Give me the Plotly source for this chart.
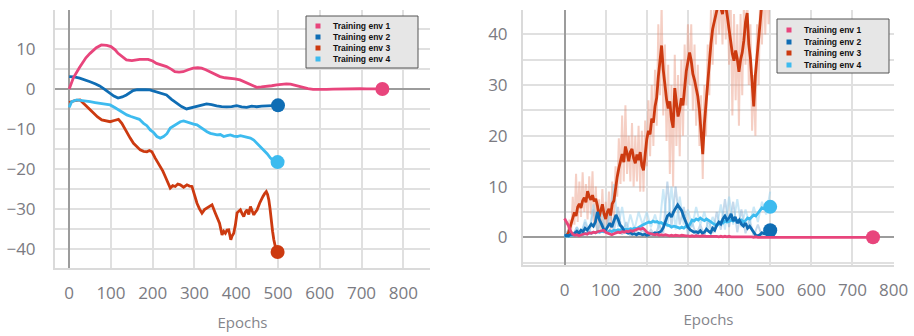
import plotly.graph_objects as go

W, H = 914, 336

# ---------------- data ----------------
series_names = ["Training env 1", "Training env 2", "Training env 3", "Training env 4"]
series_colors = ["#e8457c", "#0f6db4", "#cc3a10", "#3dbbef"]
pale_colors = ["rgba(232,69,124,0.3)", "rgba(110,160,205,0.4)", "rgba(232,140,115,0.42)", "rgba(150,210,240,0.5)"]

x_ticks = [0, 100, 200, 300, 400, 500, 600, 700, 800]

# Left panel
left_env1_x = [0,10,25,40,50,65,77,90,100,110,117,127,137,150,169,189,200,209,220,233,245,253,263,273,285,297,308,317,327,337,350,361,373,385,397,409,420,433,441,449,460,473,485,497,510,520,530,537,548,560,572,584,600,616,632,648,664,680,696,712,730,750]
left_env1_y = [0,2.8,5.4,7.8,8.9,10.3,11,10.9,10.6,9.8,8.9,8.1,7.25,7.1,7.4,7.4,7.0,6.4,6.0,5.6,4.9,4.3,4.2,4.3,4.8,5.2,5.3,5.2,4.8,4.3,3.7,3.1,2.8,2.7,2.5,2.25,1.7,1.0,0.6,0.4,0.5,0.6,0.8,1.0,1.2,1.25,1.2,1.0,0.7,0.4,0.1,-0.1,-0.15,-0.1,-0.05,0,0.05,0.1,0.05,0,0.02,0]

left_env2_x = [0,12,25,38,50,62,73,85,97,107,117,127,137,145,153,163,173,183,193,201,209,220,233,245,257,269,281,293,305,317,329,341,353,365,377,389,401,413,425,437,449,461,473,487,500]
left_env2_y = [3.1,3.0,2.7,2.3,1.8,1.3,0.75,-0.1,-1.1,-1.8,-2.3,-2.0,-1.5,-0.9,-0.4,-0.2,-0.1,-0.15,-0.25,-0.5,-0.7,-1.0,-1.5,-2.6,-3.6,-4.4,-5.0,-4.7,-4.25,-4.0,-3.75,-3.9,-4.25,-4.4,-4.5,-4.4,-4.2,-4.5,-4.6,-4.3,-4.45,-4.3,-4.25,-4.2,-4.1]

left_env3_x = [0,14,26,38,48,58,68,78,88,98,108,118,126,132,138,146,154,162,170,178,186,192,198,206,212,218,224,230,236,242,248,254,260,266,274,282,288,294,300,306,312,318,324,330,336,342,350,355,360,366,370,374,378,382,387,390,394,398,402,406,410,414,418,422,426,430,434,438,442,446,450,456,460,464,468,472,475,478,481,484,487,490,494,499]
left_env3_y = [-3.4,-2.9,-2.75,-4.0,-5.0,-6.1,-7.0,-7.75,-8.0,-8.2,-7.9,-7.6,-8.6,-9.8,-11.1,-12.3,-13.6,-14.5,-15.25,-15.6,-15.7,-15.4,-15.7,-17.3,-18.3,-19.4,-20.5,-21.9,-23.6,-24.8,-24.2,-24.4,-23.8,-24.0,-24.6,-24.0,-24.3,-24.4,-26.5,-28.6,-30.0,-31.1,-30.2,-29.8,-29.4,-29.0,-31.1,-32.2,-33.6,-36.5,-35.6,-36.1,-35.3,-35.25,-37.75,-36.8,-36.1,-34.0,-31.0,-30.6,-30.25,-31.2,-31.9,-30.8,-30.25,-31.4,-29.4,-30.5,-31.5,-30.8,-30.25,-28.6,-27.6,-26.9,-26.2,-25.7,-26.4,-27.75,-30.0,-33.6,-35.6,-37.75,-39.6,-40.8]

left_env4_x = [0,6,18,26,41,50,62,74,86,98,108,118,128,138,148,158,168,178,186,194,202,210,218,226,234,242,250,258,266,274,282,290,298,306,314,322,330,338,346,354,362,370,378,386,394,402,410,418,426,434,442,450,458,466,474,482,490,499]
left_env4_y = [-4.6,-3.2,-2.75,-2.9,-3.2,-3.2,-3.4,-3.6,-3.8,-4.0,-4.6,-5.25,-5.9,-6.5,-6.9,-7.3,-7.6,-8.6,-9.2,-10.25,-10.9,-11.9,-12.3,-11.9,-11.2,-9.8,-9.2,-8.6,-8.2,-8.0,-8.3,-8.6,-8.8,-9.0,-9.6,-10.25,-10.7,-11.1,-11.3,-11.5,-11.4,-11.9,-11.7,-11.5,-11.8,-11.9,-11.7,-11.9,-12.0,-12.3,-12.8,-13.6,-14.4,-15.25,-16.2,-17.3,-18.0,-18.3]

# Right panel
right_x5 = list(range(0, 501, 5))
right_env1_x = right_x5 + [550, 600, 650, 700, 750]
right_env1_y = [3.7,3.0,2.2,1.2,0.6,0.4,0.5,0.3,0.5,0.6,
                0.7,0.6,0.9,0.8,1.0,0.9,1.1,1.2,1.3,1.4,
                1.0,0.8,0.6,0.5,0.7,0.8,1.0,0.9,1.1,1.0,
                1.2,1.1,1.3,1.2,1.4,1.5,1.7,1.6,1.8,1.5,
                1.0,0.8,0.7,0.6,0.5,0.6,0.4,0.5,0.4,0.5,
                0.4,0.3,0.4,0.3,0.4,0.3,0.3,0.4,0.3,0.3,
                0.3,0.2,0.3,0.2,0.3,0.2,0.2,0.3,0.2,0.2,
                0.2,0.2,0.3,0.2,0.2,0.1,0.2,0.1,0.2,0.1,
                0.2,0.1,0.1,0.2,0.1,0.1,0.1,0.1,0.1,0.1,
                0.1,0.1,0.0,0.1,0.0,0.0,0.1,0.0,0.0,0.0,
                0.0, 0.0, 0.0, 0.0, 0.0, 0.0]

right_env2_x = right_x5
right_env2_y = [0.3,0.4,0.3,0.6,0.5,0.9,1.2,0.8,1.4,1.1,
                1.8,1.4,2.0,2.6,2.2,3.0,5.0,3.4,2.6,1.6,
                1.4,2.2,2.8,2.0,3.2,4.4,3.6,2.4,2.0,1.2,
                1.0,0.8,0.9,0.6,0.7,0.5,0.8,0.6,0.5,0.6,
                0.4,0.5,0.7,0.6,0.9,0.8,1.0,1.2,1.9,3.0,
                4.2,4.6,4.0,5.0,5.6,6.4,5.8,5.2,4.0,3.0,
                2.0,1.5,1.2,1.0,1.1,0.9,1.3,0.8,1.0,1.6,
                1.2,0.9,1.8,1.4,2.4,3.0,2.6,3.6,4.2,3.4,
                3.8,4.6,3.2,4.0,2.8,3.4,2.6,2.2,2.8,1.8,
                2.2,1.6,1.0,0.4,0.3,0.5,0.9,0.7,1.1,1.3,
                1.4]

right_x4 = list(range(4, 501, 4))
right_env3_x = right_x4
right_env3_y = [0.4,0.6,1.5,2.8,3.6,4.9,4.2,6.0,6.6,5.8,
                7.2,7.8,6.9,9.1,8.0,7.4,8.3,7.1,7.6,6.2,
                4.0,5.2,6.5,4.6,3.6,5.0,5.6,4.3,6.6,7.2,
                9.8,11.9,13.6,15.2,16.4,14.8,17.9,16.6,15.0,16.8,
                17.4,15.6,14.6,16.3,15.2,16.8,14.1,13.2,17.0,19.4,
                21.0,20.3,23.4,22.6,25.8,27.5,31.6,35.2,37.8,33.0,
                29.6,27.2,25.4,26.8,23.2,21.6,29.4,27.0,23.8,25.2,
                27.4,26.0,30.3,32.8,34.6,36.4,34.8,32.2,31.0,29.6,
                27.8,25.0,21.0,16.4,22.4,26.6,31.5,35.6,38.2,41.0,
                42.6,44.0,45.5,46.8,45.2,44.0,46.0,45.6,43.4,40.8,
                38.6,36.2,34.8,36.8,35.2,32.6,35.0,36.4,38.8,42.4,
                44.2,38.0,35.2,29.6,25.8,32.0,35.8,40.2,44.6,46.4,
                47.8,48.6,49.2,49.8,50.2]
right_env3_raw_y = [0.2,1.0,3.5,1.0,8.0,2.5,12.5,3.0,11.0,4.0,
                    12.8,5.0,10.5,3.5,12.0,4.5,13.0,2.0,10.0,1.0,
                    7.5,1.5,9.5,2.0,7.0,2.5,9.0,1.5,11.0,3.5,
                    14.0,8.0,19.5,10.5,24.0,11.0,26.0,12.5,20.0,11.0,
                    22.5,10.0,20.0,11.0,22.0,9.0,21.0,9.0,23.0,14.0,
                    27.0,16.0,30.0,18.0,33.0,22.0,42.0,28.0,46.0,24.0,
                    38.0,19.0,34.0,12.5,30.0,10.0,36.0,18.0,32.0,16.0,
                    35.0,20.0,38.0,26.0,42.0,30.0,42.0,25.0,38.0,22.0,
                    34.0,18.0,28.0,11.5,30.0,20.0,38.0,28.0,45.0,34.0,
                    48.0,38.0,50.0,40.0,50.0,38.0,50.0,39.0,48.0,34.0,
                    46.0,24.0,44.0,27.0,42.0,22.0,44.0,28.0,46.0,34.0,
                    50.0,30.0,42.0,21.0,32.0,20.0,42.0,30.0,50.0,38.0,
                    52.0,40.0,52.0,42.0,52.0]

right_env4_x = right_x5
right_env4_y = [0.2,0.3,0.2,0.4,0.5,0.4,0.6,0.5,0.7,0.6,
                0.8,0.7,0.9,0.8,1.0,0.9,1.1,1.0,1.2,1.1,
                1.2,1.0,1.3,1.1,1.4,1.3,1.5,1.4,1.6,1.5,
                1.6,1.5,1.7,1.6,1.8,1.7,2.0,2.2,2.4,2.6,
                2.8,3.0,2.9,3.2,3.0,3.1,2.8,2.9,2.6,2.7,
                2.4,2.3,2.0,2.2,2.1,1.9,1.8,2.0,1.8,2.2,
                2.0,2.6,3.4,3.2,3.6,3.4,3.8,3.5,3.3,3.6,
                3.4,3.1,2.8,2.5,2.3,2.6,3.0,2.8,3.2,3.0,
                3.1,3.4,3.2,3.5,3.3,3.1,3.4,3.0,3.3,3.8,
                3.6,4.0,4.4,4.2,4.8,5.4,5.8,5.6,6.0,5.9,
                6.0]

right_x10 = list(range(0, 501, 10))
right_env2_raw_y = [0.2,1.5,0.2,2.0,0.4,3.0,0.5,5.5,1.0,3.5,
                    0.8,5.5,1.0,6.0,0.5,3.0,0.2,2.0,0.3,1.5,
                    0.2,1.5,0.3,2.5,0.8,11.0,2.0,10.0,2.5,6.0,
                    0.5,3.0,0.4,2.5,0.3,3.5,0.8,5.0,1.5,7.5,
                    2.0,7.0,1.0,5.5,0.8,3.5,0.2,2.5,0.3,2.0,
                    0.5]
right_env4_raw_y = [0.2,1.5,0.3,2.0,0.5,3.5,1.0,6.5,1.5,5.0,
                    1.0,4.0,10.5,2.0,6.0,1.0,4.5,1.5,5.0,2.5,
                    5.0,2.0,4.5,1.5,9.5,2.0,10.0,1.5,8.0,2.5,
                    5.5,2.0,6.0,2.5,5.0,1.5,4.0,2.0,6.5,1.5,
                    8.0,2.5,7.5,2.0,5.5,2.5,6.0,3.0,7.0,4.5,
                    9.0]

# ---------------- figure ----------------
fig = go.Figure()

def px_x(p):
    return p / W

def px_y(p):
    return 1 - p / H

LINE_W = 2.8
MARK = 14

left_series = [(left_env1_x, left_env1_y), (left_env2_x, left_env2_y),
               (left_env3_x, left_env3_y), (left_env4_x, left_env4_y)]
right_series = [(right_env1_x, right_env1_y), (right_env2_x, right_env2_y),
                (right_env3_x, right_env3_y), (right_env4_x, right_env4_y)]
right_raw = [None, (right_x10, right_env2_raw_y), (right_x4, right_env3_raw_y), (right_x10, right_env4_raw_y)]

# pale raw traces (right)
for i, raw in enumerate(right_raw):
    if raw is None:
        continue
    fig.add_trace(go.Scatter(x=raw[0], y=raw[1], mode="lines", xaxis="x2", yaxis="y2",
                             line=dict(color=pale_colors[i], width=2), showlegend=False,
                             hoverinfo="skip"))

draw_order = [2, 3, 1, 0]
for axn, series in (("", left_series), ("2", right_series)):
    for i in draw_order:
        xs, ys = series[i]
        fig.add_trace(go.Scatter(x=xs, y=ys, mode="lines", name=series_names[i],
                                 xaxis="x" + axn, yaxis="y" + axn,
                                 line=dict(color=series_colors[i], width=LINE_W),
                                 showlegend=False))
        fig.add_trace(go.Scatter(x=[xs[-1]], y=[ys[-1]], mode="markers",
                                 xaxis="x" + axn, yaxis="y" + axn,
                                 marker=dict(color=series_colors[i], size=MARK),
                                 showlegend=False, hoverinfo="skip"))

tick_font = dict(family="Open Sans", size=17, color="#7b7b82")
title_font = dict(family="Open Sans", size=15, color="#85858b")
grid_c = "#e0e0e0"
zero_c = "#9c9c9c"

def xaxis(domain, rng, anchor, standoff):
    return dict(domain=domain, range=rng, anchor=anchor, tickvals=x_ticks,
                automargin=False,
                showgrid=True, gridcolor=grid_c, gridwidth=2,
                zeroline=True, zerolinecolor=zero_c, zerolinewidth=2,
                showline=True, linecolor="#dadada", linewidth=2,
                ticks="", tickfont=tick_font, ticklabelstandoff=standoff,
                title=dict(text="Epochs", font=title_font, standoff=14),
                fixedrange=True)

def yaxis(domain, rng, anchor, standoff):
    return dict(domain=domain, range=rng, anchor=anchor, dtick=10, tick0=0,
                automargin=False,
                showgrid=True, gridcolor=grid_c, gridwidth=2,
                minor=dict(dtick=5, tick0=0, showgrid=True, gridcolor=grid_c, gridwidth=2),
                zeroline=True, zerolinecolor=zero_c, zerolinewidth=2,
                showline=True, linecolor="#dadada", linewidth=2,
                ticks="", tickfont=tick_font, ticklabelstandoff=standoff,
                fixedrange=True)

fig.update_layout(
    width=W, height=H,
    margin=dict(l=0, r=0, t=0, b=0),
    paper_bgcolor="white", plot_bgcolor="white",
    showlegend=False,
    xaxis=xaxis([px_x(55), px_x(430)], [-34, 864], "y", 9),
    yaxis=yaxis([px_y(268), px_y(10)], [-44.8, 19.75], "x", 14),
    xaxis2=xaxis([px_x(523), px_x(894)], [-101, 801], "y2", 9),
    yaxis2=yaxis([px_y(265), px_y(10)], [-5.46, 44.8], "x2", 10),
)

# legends (drawn as boxes with real text)
shapes = []
annotations = []
legend_boxes = [
    dict(x0=306, y0=16, x1=418, y1=68, sq_x=318, txt_x=331, rows=[26, 37, 48, 59]),
    dict(x0=777, y0=19, x1=889, y1=73, sq_x=789, txt_x=802, rows=[30, 42, 53, 65]),
]
for lb in legend_boxes:
    shapes.append(dict(type="rect", xref="paper", yref="paper", layer="above",
                       x0=px_x(lb["x0"]), x1=px_x(lb["x1"]), y0=px_y(lb["y1"]), y1=px_y(lb["y0"]),
                       fillcolor="#e6e6e6", line=dict(color="#555555", width=1)))
    for i, ry in enumerate(lb["rows"]):
        shapes.append(dict(type="rect", xref="paper", yref="paper", layer="above",
                           x0=px_x(lb["sq_x"] - 2.5), x1=px_x(lb["sq_x"] + 2.5),
                           y0=px_y(ry + 2.5), y1=px_y(ry - 2.5),
                           fillcolor=series_colors[i], line=dict(width=0)))
        annotations.append(dict(xref="paper", yref="paper", x=px_x(lb["txt_x"]), y=px_y(ry),
                                xanchor="left", yanchor="middle", showarrow=False,
                                text=series_names[i],
                                font=dict(family="Liberation Sans Narrow, Arial Narrow, Liberation Sans",
                                          size=8.5, color="#111111", weight="bold")))

fig.update_layout(shapes=shapes, annotations=annotations)

fig.write_html("out.html",
               config={"displayModeBar": False},
               post_script="document.body.style.margin='0';document.body.style.padding='0';"
                           "document.body.style.overflow='hidden';")
